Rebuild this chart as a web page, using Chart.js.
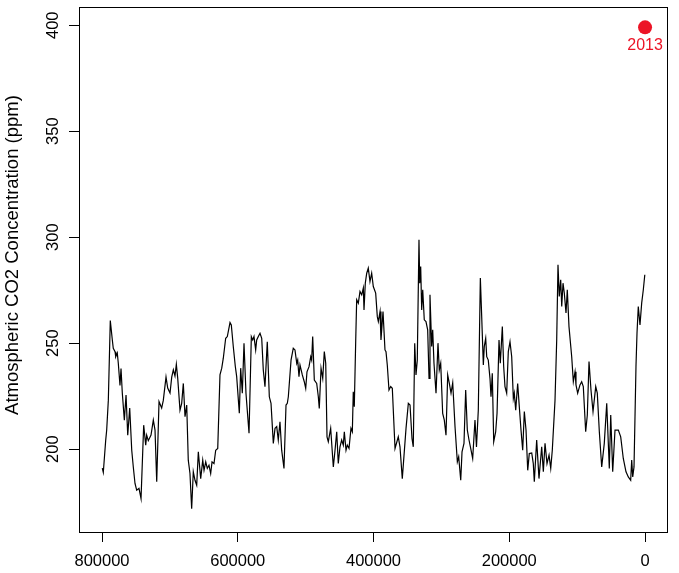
<!DOCTYPE html>
<html>
<head>
<meta charset="utf-8">
<script src="https://cdn.jsdelivr.net/npm/chart.js@4.4.0/dist/chart.umd.min.js"></script>
<style>
  html, body { margin: 0; padding: 0; background: #fff; }
</style>
</head>
<body>
<canvas id="co2-chart" width="679" height="573"></canvas>
<script>
// ice core record: years before present and CO2 (ppm)
var ages = [
  799600, 798100, 794600, 793100, 790700, 787800, 784800, 783400, 780800, 779800,
  777500, 776000, 773500, 772000, 770100, 767100, 764600, 762100, 759200, 756200,
  753900, 751400, 748900, 745500, 742500, 738600, 735600, 734200, 731800, 727800,
  724400, 721900, 719400, 716000, 712100, 709700, 705700, 703200, 699800, 697300,
  694900, 692500, 690500, 688500, 685100, 682600, 680200, 677700, 675200, 672900,
  670400, 667900, 665500, 663000, 660500, 658100, 654600, 651600, 649700, 647200,
  644900, 642400, 639900, 637900, 635000, 632500, 629500, 626200, 623600, 621300,
  617800, 615400, 611400, 609500, 606600, 603600, 601600, 597700, 595700, 593300,
  590800, 587900, 583400, 580000, 578000, 576100, 573600, 572100, 569700, 567200,
  564700, 562400, 559900, 556500, 553500, 551000, 547600, 545100, 542600, 540300,
  537800, 535300, 531900, 528900, 527000, 525500, 521500, 518200, 515700, 513100,
  511700, 509800, 508300, 504900, 502000, 499900, 498000, 495000, 492500, 491100,
  489600, 487200, 483700, 481300, 479900, 477300, 474800, 472500, 470400, 468500,
  466600, 463100, 459200, 456700, 454200, 451900, 449400, 446900, 444500, 443000,
  440500, 438600, 436100, 433200, 431200, 429800, 428300, 426200, 424800, 422400,
  419900, 417400, 415000, 414000, 412100, 410000, 407700, 405200, 402700, 400300,
  396800, 394400, 392900, 390400, 389000, 388000, 386000, 383100, 381600, 379700,
  377200, 374700, 372300, 368300, 363500, 361000, 357600, 352100, 348700, 346200,
  343300, 341400, 339300, 337400, 335500, 333000, 331900, 330500, 329000, 327500,
  325200, 322700, 320200, 318200, 316800, 314300, 312800, 310900, 307900, 305000,
  303100, 301000, 298100, 295700, 293200, 290700, 288300, 285800, 283300, 279900,
  276500, 274500, 271500, 269600, 266700, 264200, 261800, 259300, 256800, 253900,
  250500, 248300, 245600, 242600, 240600, 238200, 236800, 234700, 233200, 230900,
  228400, 226900, 225000, 222900, 220000, 218000, 215100, 213200, 210200, 208200,
  206300, 203800, 201400, 198900, 196400, 194000, 192600, 190500, 187600, 185200,
  182700, 180200, 177800, 175300, 172800, 170500, 166900, 164600, 163100, 159600,
  156200, 152200, 149800, 147300, 144400, 141400, 138900, 136600, 132600, 130100,
  128200, 126300, 124200, 122700, 120800, 118900, 116400, 114500, 112000, 108000,
  105600, 103100, 101700, 99200, 95800, 93300, 90900, 87400, 85000, 82500,
  79600, 76600, 72600, 70300, 67300, 63800, 60000, 56400, 52600, 50500,
  47600, 44200, 39300, 35800, 32000, 28000, 24600, 21100, 19600, 18100,
  16200, 13300, 11800, 9900, 7400, 4900, 2500, 300
];
var co2 = [
  191, 189, 204, 209, 223, 260.7, 251.5, 247.6, 246, 243.6,
  245.4, 240.5, 230, 238, 226.5, 213.7, 225.5, 206.6, 219.4, 199.5,
  191.6, 183.8, 180.6, 181.5, 176.7, 211.3, 201.9, 206.6, 204, 206.6,
  213.7, 209, 184.6, 222.4, 219.4, 223, 234, 228.8, 226.5, 234,
  237.4, 234.5, 240, 233.6, 218.4, 221.6, 231, 215.3, 220.8, 194.8,
  188.5, 171.9, 189.3, 185.3, 183, 198.7, 186.1, 194.8, 190, 194,
  190.9, 192.4, 188.5, 194, 193.2, 199.5, 200.3, 235, 238.2, 242.9,
  252.3, 253.1, 259.7, 258.6, 248.4, 239, 234.2, 216.9, 238.2, 226.4,
  250, 226.4, 207.5, 253.1, 251.5, 253.1, 246.8, 251.5, 253.1, 254.7,
  252.3, 237.4, 229.5, 250.7, 224.7, 221.6, 202.7, 209.8, 210.6, 204.3,
  212.9, 199.5, 190.9, 220.8, 221.6, 224.7, 242, 247.6, 246.8, 240.5,
  242, 234.2, 239.7, 235, 231.8, 228.7, 236.5, 238.9, 243.6, 242,
  253.1, 232.6, 231, 224.7, 219.2, 238.2, 233.4, 246, 240.5, 205.8,
  203.5, 209.8, 191.6, 199.5, 208.2, 193.2, 201.1, 204.3, 201.9, 208.2,
  199.5, 201.9, 200.3, 209.8, 208.2, 227.1, 220, 251.5, 270.5, 268.9,
  274.4, 272.8, 276, 265.7, 278.3, 283, 285.4, 279.1, 283, 276.7,
  273.6, 262.5, 260.2, 264.9, 251.5, 256, 264.9, 246.8, 246, 239.7,
  227.9, 229.5, 228.7, 200.3, 205.8, 201.1, 186.1, 209.8, 221.6, 220.8,
  205, 201.1, 250, 235, 242, 298.8, 278.3, 286.2, 265.7, 275.2,
  261, 260.2, 256.3, 233.4, 272.8, 248.4, 256.3, 240.5, 226.4, 250,
  237.4, 240.5, 216.9, 213.7, 206.6, 235, 231, 226.4, 231.3, 210.6,
  194, 196.4, 185.3, 198.7, 202.7, 227.9, 209, 204.3, 200.3, 195.6,
  213.7, 201, 218.5, 280.7, 262.5, 239.7, 248.4, 252.3, 243.6, 242,
  233.4, 224.7, 235.8, 203.5, 208.2, 216.9, 251.5, 240.5, 257.8, 238.9,
  229.5, 226.4, 246, 250.7, 243.6, 223.9, 226.4, 218.4, 231, 220,
  209, 199.5, 217.7, 209, 190, 197.9, 198.2, 193.2, 184.6, 204.3,
  186.1, 201.1, 189.3, 202.7, 193.2, 197.2, 190.9, 199.5, 223, 251.5,
  287, 272, 279.9, 267.3, 278.3, 273.6, 264.2, 275.2, 257.8, 243.6,
  231.8, 236.5, 230.3, 226.4, 230.3, 231.8, 229.5, 208.2, 216.1, 241.3,
  227.9, 217.7, 229.5, 226.4, 208.2, 191.6, 202.7, 221.6, 190.9, 216.1,
  189.3, 209, 209, 205.8, 195.6, 189.3, 186.9, 185.3, 194.8, 186.9,
  191.6, 239, 254.7, 267.3, 258.6, 268.9, 275.2, 282.3
];

// modern measurement
var nowAges = [-63];
var nowCo2 = [399];
var nowLabels = ['2013'];

var xTicks = [800000, 600000, 400000, 200000, 0];
var yTicks = [200, 250, 300, 350, 400];
var yTitle = 'Atmospheric CO2 Concentration (ppm)';

var fontFamily = "'Liberation Sans', Arial, Helvetica, sans-serif";
var red = 'rgb(236, 20, 38)';

var iceCore = ages.map(function(a, i) { return { x: a, y: co2[i] }; });
var modern = nowAges.map(function(a, i) { return { x: a, y: nowCo2[i] }; });

// box round the plot, the "2013" note and the y title
var extras = {
  id: 'extras',
  afterDraw: function(chart) {
    var ctx = chart.ctx;
    var a = chart.chartArea;
    ctx.save();
    ctx.strokeStyle = '#000';
    ctx.lineWidth = 1;
    ctx.strokeRect(Math.round(a.left) + 0.5, Math.round(a.top) + 0.5,
      Math.round(a.right - a.left), Math.round(a.bottom - a.top));

    var meta = chart.getDatasetMeta(1);
    ctx.fillStyle = red;
    ctx.font = '16px ' + fontFamily;
    ctx.textAlign = 'center';
    ctx.textBaseline = 'middle';
    meta.data.forEach(function(pt, i) {
      ctx.fillText(nowLabels[i], pt.x, pt.y + 18);
    });

    ctx.fillStyle = '#000';
    ctx.font = '18.5px ' + fontFamily;
    ctx.translate(12.5, 255);
    ctx.rotate(-Math.PI / 2);
    ctx.fillText(yTitle, 0, 0);
    ctx.restore();
  }
};

function noPad(scale) {
  scale.paddingTop = 0;
  scale.paddingBottom = 0;
  scale.paddingLeft = 0;
  scale.paddingRight = 0;
}

var ctx = document.getElementById('co2-chart').getContext('2d');
var co2Chart = new Chart(ctx, {
  type: 'scatter',
  data: {
    datasets: [{
      data: iceCore,
      showLine: true,
      borderColor: '#000',
      borderWidth: 1.2,
      pointRadius: 0,
      tension: 0
    }, {
      data: modern,
      showLine: false,
      pointRadius: 7,
      pointBackgroundColor: red,
      pointBorderWidth: 0,
      clip: false
    }]
  },
  options: {
    responsive: false,
    animation: false,
    layout: { padding: { top: 6, right: 12, left: 0, bottom: 0 } },
    plugins: {
      legend: { display: false },
      tooltip: { enabled: false }
    },
    scales: {
      x: {
        type: 'linear',
        reverse: true,
        min: -32400,
        max: 833900,
        afterBuildTicks: function(scale) {
          scale.ticks = xTicks.map(function(v) { return { value: v }; });
        },
        afterFit: function(scale) { scale.height = 41; noPad(scale); },
        grid: { drawOnChartArea: false, tickLength: 10, color: '#000' },
        border: { display: true, color: '#000' },
        ticks: {
          color: '#000',
          font: { family: fontFamily, size: 16.5 },
          padding: 10,
          maxRotation: 0,
          autoSkip: false,
          callback: function(v) { return String(v); }
        }
      },
      y: {
        min: 160.9,
        max: 408.6,
        afterBuildTicks: function(scale) {
          scale.ticks = yTicks.map(function(v) { return { value: v }; });
        },
        afterFit: function(scale) { scale.width = 79; noPad(scale); },
        grid: { drawOnChartArea: false, tickLength: 10, color: '#000' },
        border: { display: true, color: '#000' },
        ticks: {
          color: '#000',
          font: { family: fontFamily, size: 16.5 },
          padding: 2,
          minRotation: 90,
          maxRotation: 90,
          crossAlign: 'center',
          autoSkip: false,
          callback: function(v) { return String(v); }
        }
      }
    }
  },
  plugins: [extras]
});
</script>
</body>
</html>
